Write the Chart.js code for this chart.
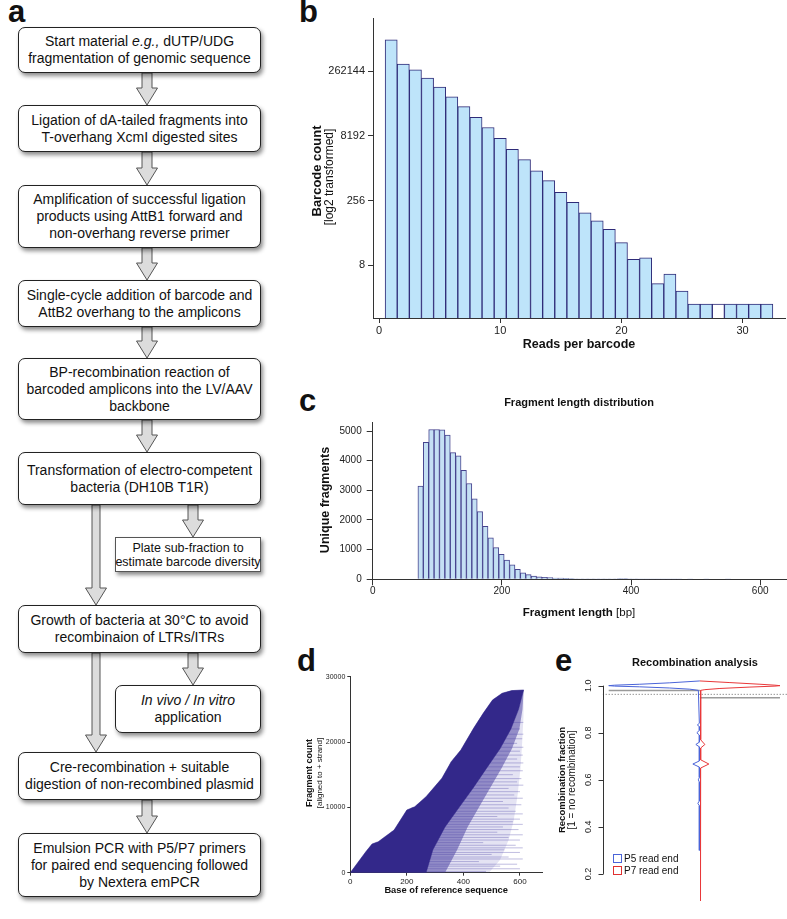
<!DOCTYPE html>
<html>
<head>
<meta charset="utf-8">
<script src="https://cdn.jsdelivr.net/npm/chart.js@4.4.1/dist/chart.umd.min.js"></script>
<style>
  body { margin: 0; background: #fff; font-family: "Liberation Sans", Arial, Helvetica, sans-serif; color: #111; }
  #wrap { position: relative; width: 787px; height: 919px; overflow: hidden; }
  .plbl { position: absolute; font-weight: bold; font-size: 31px; line-height: 1; }
  .box { position: absolute; box-sizing: border-box; border: 1.3px solid #222; border-radius: 7px; background: #fff;
         box-shadow: 2px 3px 4px rgba(0,0,0,.45); font-size: 14px; line-height: 17px; text-align: center;
         display: flex; align-items: center; justify-content: center; white-space: nowrap; }
  canvas { position: absolute; }
  .t { position: absolute; white-space: nowrap; line-height: 1; }
  .vt { position: absolute; white-space: nowrap; line-height: 1; transform: translate(-50%, -50%) rotate(-90deg); }
  .lg { position: absolute; font-size: 10px; line-height: 1; white-space: nowrap; }
  .lg span { display: inline-block; width: 7px; height: 7px; border: 1px solid; margin-right: 2px; vertical-align: -1px; }
</style>
</head>
<body>
<div id="wrap">
  <svg id="arrows" width="280" height="919" style="position:absolute;left:0;top:0"></svg>
  <div id="flow"></div>

  <div class="plbl" style="left:8px;top:-4px">a</div>
  <div class="plbl" style="left:299px;top:-4px">b</div>
  <div class="plbl" style="left:299px;top:385px">c</div>
  <div class="plbl" style="left:297px;top:645px">d</div>
  <div class="plbl" style="left:555px;top:645px">e</div>

  <canvas id="cb" width="497" height="360" style="left:290px;top:0px"></canvas>
  <canvas id="cc" width="497" height="245" style="left:290px;top:380px"></canvas>
  <canvas id="cd" width="262" height="262" style="left:290px;top:640px"></canvas>
  <canvas id="ce" width="247" height="279" style="left:540px;top:640px"></canvas>

  <div class="vt" style="left:316px;top:171px;font-size:13px;font-weight:bold">Barcode count</div>
  <div class="vt" style="left:329px;top:177px;font-size:12px">[log2 transformed]</div>

  <div class="t" style="left:579px;top:402px;transform:translate(-50%,-50%);font-size:11px;font-weight:bold">Fragment length distribution</div>
  <div class="vt" style="left:325px;top:500px;font-size:12.5px;font-weight:bold">Unique fragments</div>
  <div class="t" style="left:579px;top:613px;transform:translate(-50%,-50%);font-size:11.5px"><b>Fragment length</b> [bp]</div>

  <div class="vt" style="left:309px;top:773px;font-size:9px;font-weight:bold">Fragment count</div>
  <div class="vt" style="left:320px;top:773px;font-size:8px">[aligned to + strand]</div>

  <div class="t" style="left:695px;top:662px;transform:translate(-50%,-50%);font-size:11px;font-weight:bold">Recombination analysis</div>
  <div class="vt" style="left:562px;top:780px;font-size:9.5px;font-weight:bold">Recombination fraction</div>
  <div class="vt" style="left:572px;top:780px;font-size:10px">[1 = no recombination]</div>
  <div class="lg" style="left:613px;top:854px"><span style="border-color:#4a64d8"></span>P5 read end</div>
  <div class="lg" style="left:613px;top:866px"><span style="border-color:#e03030"></span>P7 read end</div>
</div>

<script>
// ---- panel a: workflow ----
const steps = [
  [27, 46, 'Start material <i>e.g.,</i> dUTP/UDG<br>fragmentation of genomic sequence'],
  [105, 47, 'Ligation of dA-tailed fragments into<br>T-overhang XcmI digested sites'],
  [185, 63, 'Amplification of successful ligation<br>products using AttB1 forward and<br>non-overhang reverse primer'],
  [280, 47, 'Single-cycle addition of barcode and<br>AttB2 overhang to the amplicons'],
  [358, 62, 'BP-recombination reaction of<br>barcoded amplicons into the LV/AAV<br>backbone'],
  [452, 53, 'Transformation of electro-competent<br>bacteria (DH10B T1R)'],
  [605, 48, 'Growth of bacteria at 30°C to avoid<br>recombinaion of LTRs/ITRs'],
  [752, 48, 'Cre-recombination + suitable<br>digestion of non-recombined plasmid'],
  [833, 64, 'Emulsion PCR with P5/P7 primers<br>for paired end sequencing followed<br>by Nextera emPCR'],
];
const sideSteps = [
  [537, 35, 'Plate sub-fraction to<br>estimate barcode diversity', true],
  [685, 48, '<i>In vivo / In vitro</i><br>application', false],
];
// [centre x, from y, to y, shaft width]
const arrows = [
  [147, 73, 105, 10], [147, 152, 185, 10], [147, 248, 280, 10], [147, 327, 358, 10],
  [147, 420, 452, 10], [96, 505, 605, 8], [193, 505, 537, 10], [96, 653, 752, 8],
  [193, 653, 685, 10], [147, 800, 833, 10],
];

let flowHtml = '';
steps.forEach(([y, h, txt]) => {
  flowHtml += `<div class="box" style="left:18px;top:${y}px;width:243px;height:${h}px"><div>${txt}</div></div>`;
});
sideSteps.forEach(([y, h, txt, plain]) => {
  const extra = plain ? 'border-radius:0;border:1px solid #555;font-size:12.5px;line-height:14px;' : '';
  flowHtml += `<div class="box" style="left:115px;top:${y}px;width:146px;height:${h}px;${extra}"><div>${txt}</div></div>`;
});
document.getElementById('flow').innerHTML = flowHtml;

let svg = '';
arrows.forEach(([cx, y0, y1, w]) => {
  const hh = 17, hw = 10.5, sw = w / 2, yh = y1 - hh;
  const pts = [[cx - sw, y0], [cx + sw, y0], [cx + sw, yh], [cx + hw, yh], [cx, y1], [cx - hw, yh], [cx - sw, yh]];
  svg += `<polygon points="${pts.map(p => p.join(',')).join(' ')}" fill="#dcdcdc" stroke="#555" stroke-width="1"/>`;
});
document.getElementById('arrows').innerHTML = svg;

// ---- data ----
// b: reads per barcode histogram (counts, shown on log2 axis)
const readsPerBarcode = [1,2,3,4,5,6,7,8,9,10,11,12,13,14,15,16,17,18,19,20,21,22,23,24,25,26,27,28,29,30,31,32];
const barcodeCount = [1390000, 381000, 280000, 180000, 111000, 66000, 39000, 22000, 12800, 7200,
  3950, 2300, 1250, 744, 399, 234, 133, 87, 55, 27, 11, 12, 3, 5, 2, 1, 1, 1, 1, 1, 1, 1];
const barcodeTicks = [8, 256, 8192, 262144];

// c: fragment length histogram
const fragBinStart = 70, fragBinWidth = 8.35;
const fragCounts = [3140, 4620, 5050, 5050, 5040, 4860, 4270, 4160, 3670, 3230, 2710, 2280, 1790, 1400,
  1070, 840, 650, 490, 340, 220, 160, 110, 85, 70, 60, 45, 38, 30, 25, 20, 15, 12, 10, 8, 10, 14,
  20, 25, 22, 15, 10, 6, 4, 3, 2, 2, 1, 1, 1, 0, 1, 0, 0, 1, 0, 0, 0, 1, 0, 0, 0, 0, 0, 0, 0, 0, 0];

// d: fragment coverage (start boundary, dense core edge, mid and outer edges, single long fragments)
const covStartX = [0, 55, 77, 99, 155, 200, 228, 268, 324, 357, 391, 436, 470, 503, 537, 571, 613];
const covStartY = [0, 3220, 4400, 4750, 6540, 9600, 10100, 11640, 14460, 17000, 18790, 22100, 24400, 26440, 27470, 27870, 27980];
const covCoreX = [613, 607, 595, 568, 530, 482, 435, 385, 335, 292, 268];
const covCoreY = [27980, 27000, 25000, 22000, 19000, 16000, 13000, 10000, 7000, 3500, 0];
const covMidX = [613, 609, 598, 572, 535, 495, 455, 415, 378, 335];
const covMidY = [27980, 25000, 22000, 19000, 16000, 13000, 10000, 7000, 3500, 0];
const covOuterX = [613, 612, 608, 602, 592, 578, 560, 530, 490];
const covOuterY = [27980, 24000, 20000, 16000, 12000, 8000, 5000, 2000, 0];
const longFrags = [ // [count, start, end]
  [200, 3, 480], [600, 10, 600], [1000, 20, 530], [1300, 28, 590], [1700, 35, 455], [2100, 40, 610],
  [2400, 45, 560], [2800, 50, 500], [3100, 54, 600], [3500, 62, 545], [3800, 68, 610], [4200, 80, 585],
  [4600, 95, 470], [5000, 110, 600], [5400, 122, 560], [5800, 135, 610], [6200, 145, 520], [6600, 155, 595],
  [7000, 165, 540], [7400, 172, 610], [7800, 178, 575], [8200, 185, 600], [8600, 190, 520], [9000, 195, 610],
  [9400, 200, 585], [9900, 215, 560], [10400, 235, 605], [10900, 250, 540], [11400, 262, 610], [11900, 275, 580],
  [12400, 290, 600], [12900, 300, 560], [13400, 308, 612], [13900, 318, 590], [14400, 324, 605], [15000, 333, 575],
  [15600, 343, 610], [16200, 350, 600], [16800, 355, 612], [17400, 365, 590], [18000, 378, 610], [18600, 390, 600],
  [19200, 400, 612], [19800, 410, 590], [20500, 420, 608], [21200, 428, 612], [22000, 436, 600], [23000, 452, 612]
];
const covTicksY = [0, 10000, 20000, 30000];

// e: split violin of recombination fraction
const p5Frac = [1.02, 1.012, 1.006, 1.002, 1.0, 0.998, 0.995, 0.99, 0.985, 0.98, 0.84, 0.833, 0.826, 0.81, 0.8, 0.79, 0.76, 0.75, 0.74, 0.68, 0.667, 0.654, 0.61, 0.6, 0.59, 0.51, 0.5, 0.49, 0.3];
const p5Dens = [0, 30, 60, 85, 91, 85, 60, 30, 10, 1.5, 0.5, 2.5, 0.5, 0.5, 3, 0.5, 0.5, 4, 0.5, 0.5, 7, 0.5, 0.5, 1.5, 0.5, 0.5, 2, 0.5, 0.5];
const p7Frac = [1.02, 1.013, 1.006, 1.002, 1.0, 0.998, 0.994, 0.988, 0.983, 0.98, 0.77, 0.75, 0.735, 0.685, 0.667, 0.65, 0.3, 0.085];
const p7Dens = [0, 30, 60, 75, 80, 75, 50, 20, 5, 0.8, 0.8, 5, 0.8, 0.8, 9, 0.8, 0.8, 0.5];
const p5Centre = 0.979, p7Centre = 0.949, cutoff = 0.963;
const recTicks = [0.2, 0.4, 0.6, 0.8, 1.0];

// ---- charts ----
Chart.defaults.font.family = '"Liberation Sans", Arial, sans-serif';
Chart.defaults.color = '#222';
const axisCol = '#333';
const noUi = { legend: { display: false }, tooltip: { enabled: false } };

function fixed(list) { return s => { s.ticks = list.map(v => ({ value: v })); }; }
const plain = v => String(v);

// b
const B_MIN = -1.07, B_MAX = 22.1;
new Chart(document.getElementById('cb'), {
  type: 'bar',
  data: {
    datasets: [{
      data: readsPerBarcode.map((r, i) => ({ x: r, y: Math.log2(barcodeCount[i]) })),
      base: B_MIN,
      backgroundColor: readsPerBarcode.map(r => r === 28 ? '#ffffff' : '#bee4fa'),
      borderColor: '#2e2b78', borderWidth: 1,
      barPercentage: 1, categoryPercentage: 1
    }]
  },
  options: {
    responsive: false, animation: false, events: [],
    layout: { padding: { top: 18, right: 2, left: 0, bottom: 0 } },
    plugins: noUi,
    scales: {
      x: {
        type: 'linear', min: -0.5, max: 33.5, offset: false,
        afterBuildTicks: fixed([0, 10, 20, 30]), afterFit: s => { s.height = 42; },
        grid: { drawOnChartArea: false, tickLength: 5, color: axisCol, offset: false },
        border: { color: axisCol },
        ticks: { font: { size: 11 }, padding: 1, maxRotation: 0, callback: plain },
        title: { display: true, text: 'Reads per barcode', font: { size: 12.5, weight: 'bold' }, color: '#111', padding: { top: 0, bottom: 7.5 } }
      },
      y: {
        min: B_MIN, max: B_MAX,
        afterBuildTicks: fixed(barcodeTicks.map(v => Math.log2(v))), afterFit: s => { s.width = 83; },
        grid: { drawOnChartArea: false, tickLength: 5, color: axisCol },
        border: { color: axisCol },
        ticks: { font: { size: 11 }, padding: 3, callback: v => String(Math.round(Math.pow(2, v))) }
      }
    }
  }
});

// c
new Chart(document.getElementById('cc'), {
  type: 'bar',
  data: {
    datasets: [{
      data: fragCounts.map((c, i) => ({ x: fragBinStart + (i + 0.5) * fragBinWidth, y: c })),
      backgroundColor: '#c4e0f4', borderColor: '#46438e', borderWidth: 1,
      barPercentage: 1, categoryPercentage: 1
    }]
  },
  options: {
    responsive: false, animation: false, events: [],
    layout: { padding: { top: 42.7, right: 1, left: 0, bottom: 0 } },
    plugins: noUi,
    scales: {
      x: {
        type: 'linear', min: 0, max: 640, offset: false,
        afterBuildTicks: fixed([0, 200, 400, 600]), afterFit: s => { s.height = 45.7; },
        grid: { drawOnChartArea: false, tickLength: 6, color: axisCol, offset: false },
        border: { color: axisCol },
        ticks: { font: { size: 10 }, padding: 0, maxRotation: 0, callback: plain }
      },
      y: {
        min: 0, max: 5280,
        afterBuildTicks: fixed([0, 1000, 2000, 3000, 4000, 5000]), afterFit: s => { s.width = 82.7; },
        grid: { drawOnChartArea: false, tickLength: 6, color: axisCol },
        border: { color: axisCol },
        ticks: { font: { size: 10 }, padding: 5, callback: plain }
      }
    }
  }
});

// d
const pt = (xs, ys) => xs.map((x, i) => ({ x, y: ys[i] }));
const startEdge = pt(covStartX, covStartY);
new Chart(document.getElementById('cd'), {
  type: 'scatter',
  data: {
    datasets: [
      { data: startEdge.concat(pt(covCoreX, covCoreY)), showLine: true, fill: 'shape',
        backgroundColor: '#33288a', borderColor: '#33288a', borderWidth: 0.5, pointRadius: 0 },
      { data: longFrags.flatMap(f => [{ x: f[1], y: f[0] }, { x: f[2], y: f[0] }, { x: null, y: null }]),
        showLine: true, spanGaps: false, borderColor: 'rgba(75,65,165,0.35)', borderWidth: 1, pointRadius: 0 },
      { data: startEdge.concat(pt(covMidX, covMidY)), showLine: true, fill: 'shape',
        backgroundColor: 'rgba(65,55,155,0.5)', borderWidth: 0, pointRadius: 0 },
      { data: startEdge.concat(pt(covOuterX, covOuterY)), showLine: true, fill: 'shape',
        backgroundColor: 'rgba(90,80,180,0.16)', borderWidth: 0, pointRadius: 0 }
    ]
  },
  options: {
    responsive: false, animation: false, events: [],
    layout: { padding: { top: 36.7, right: 10, left: 0, bottom: 0 } },
    plugins: noUi,
    scales: {
      x: {
        type: 'linear', min: 0, max: 678,
        afterBuildTicks: fixed([0, 200, 400, 600]), afterFit: s => { s.height = 29.3; },
        grid: { drawOnChartArea: false, tickLength: 3, color: axisCol },
        border: { color: axisCol },
        ticks: { font: { size: 8 }, padding: 1, maxRotation: 0, callback: plain },
        title: { display: true, text: 'Base of reference sequence', font: { size: 9.3, weight: 'bold' }, color: '#111', padding: { top: 0, bottom: 6.4 } }
      },
      y: {
        min: 0, max: 30000,
        afterBuildTicks: fixed(covTicksY), afterFit: s => { s.width = 60.3; },
        grid: { drawOnChartArea: false, tickLength: 3, color: axisCol },
        border: { color: axisCol },
        ticks: { font: { size: 7 }, padding: 2, callback: plain }
      }
    }
  }
});

// e
const recAxis = {
  id: 'recAxis',
  afterDraw(chart) {
    const s = chart.scales.y, ctx = chart.ctx, x = Math.round(s.right) + 0.5;
    ctx.save();
    ctx.strokeStyle = axisCol; ctx.lineWidth = 1;
    ctx.beginPath();
    ctx.moveTo(x, s.getPixelForValue(recTicks[0]));
    ctx.lineTo(x, s.getPixelForValue(recTicks[recTicks.length - 1]));
    recTicks.forEach(v => { const y = Math.round(s.getPixelForValue(v)) + 0.5; ctx.moveTo(x, y); ctx.lineTo(x - 5, y); });
    ctx.stroke();
    ctx.fillStyle = '#222'; ctx.font = '9px "Liberation Sans", Arial, sans-serif';
    ctx.textAlign = 'center'; ctx.textBaseline = 'middle';
    recTicks.forEach(v => {
      ctx.save();
      ctx.translate(x - 14.5, s.getPixelForValue(v));
      ctx.rotate(-Math.PI / 2);
      ctx.fillText(v.toFixed(1), 0, 0);
      ctx.restore();
    });
    ctx.restore();
  }
};
new Chart(document.getElementById('ce'), {
  type: 'scatter',
  data: {
    datasets: [
      { data: p7Frac.map((y, i) => ({ x: p7Dens[i], y })), showLine: true, borderColor: '#e8383a', borderWidth: 1, pointRadius: 0 },
      { data: p5Frac.map((y, i) => ({ x: -p5Dens[i], y })), showLine: true, borderColor: '#4a64d8', borderWidth: 1, pointRadius: 0 },
      { data: [{ x: -91, y: p5Centre }, { x: 0, y: p5Centre }], showLine: true, borderColor: '#9a9a9a', borderWidth: 1.5, pointRadius: 0 },
      { data: [{ x: 0, y: p7Centre }, { x: 80, y: p7Centre }], showLine: true, borderColor: '#9a9a9a', borderWidth: 1.5, pointRadius: 0 },
      { data: [{ x: -97, y: cutoff }, { x: 87, y: cutoff }], showLine: true, borderColor: '#666', borderWidth: 1, borderDash: [1, 2], pointRadius: 0 }
    ]
  },
  options: {
    responsive: false, animation: false, events: [],
    layout: { padding: { top: 32, right: 0, left: 0, bottom: 18 } },
    plugins: noUi,
    scales: {
      x: { type: 'linear', min: -97, max: 87, display: false },
      y: {
        min: 0.085, max: 1.058,
        afterBuildTicks: fixed(recTicks), afterFit: s => { s.width = 62.7; },
        grid: { display: false }, border: { display: false },
        ticks: { display: false }
      }
    }
  },
  plugins: [recAxis]
});
</script>
</body>
</html>
